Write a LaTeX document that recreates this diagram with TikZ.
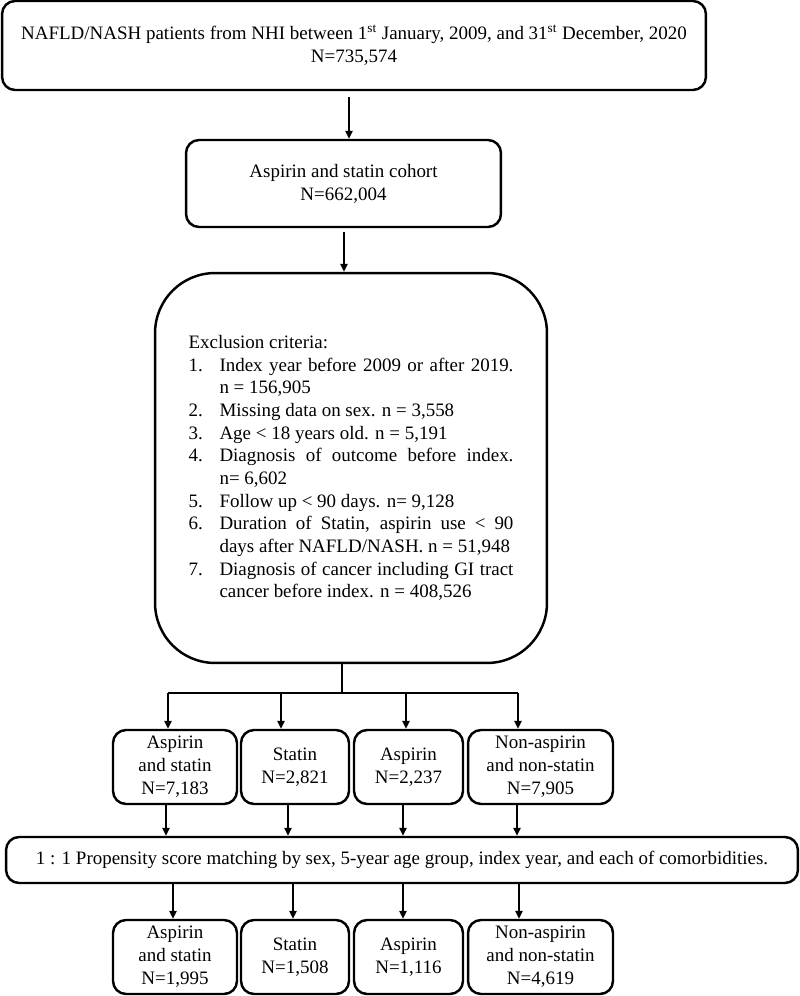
\documentclass[tikz,border=0pt]{standalone}
\usepackage{fontspec}
\setmainfont{Liberation Serif}
\usetikzlibrary{arrows.meta,positioning}

\newcommand{\critem}[2]{\par\hangindent=0.62cm\hangafter=1\noindent\makebox[0.62cm][l]{#1}#2\par}

\tikzset{
  box/.style={draw, line width=1.4pt, rounded corners=0.26cm, align=center,
    inner sep=0pt, font=\fontsize{10.8}{13.1}\selectfont},
  arr/.style={line width=1.1pt, -{Triangle[length=4.5pt,width=4pt]}},
  link/.style={line width=1.1pt},
}

\begin{document}
\begin{tikzpicture}[x=0.02cm,y=-0.02cm]
  \useasboundingbox (0,0) rectangle (800,996);
  % top of the flow
  \node[box, minimum width=14.08cm, minimum height=1.78cm] (nafld) at (354,45.5)
    {NAFLD/NASH patients from NHI between 1\textsuperscript{st} January, 2009, and 31\textsuperscript{st} December, 2020\\N=735,574};
  \node[box, minimum width=6.3cm, minimum height=1.74cm] (cohort) at (343.5,183.5)
    {Aspirin and statin cohort\\N=662,004};
  \node[box, rounded corners=1.2cm, minimum width=7.84cm, minimum height=7.8cm] (excl) at (351,468)
    {\begin{minipage}{6.5cm}\fontsize{10.8}{12.9}\selectfont
      Exclusion criteria:\par
      \critem{1.}{Index year before 2009 or after 2019.\linebreak n = 156,905}
      \critem{2.}{Missing data on sex. n = 3,558}
      \critem{3.}{Age < 18 years old. n = 5,191}
      \critem{4.}{Diagnosis of outcome before index.\linebreak n= 6,602}
      \critem{5.}{Follow up < 90 days. n= 9,128}
      \critem{6.}{Duration of Statin, aspirin use < 90\linebreak days after NAFLD/NASH. n = 51,948}
      \critem{7.}{Diagnosis of cancer including GI tract\linebreak cancer before index. n = 408,526}
    \end{minipage}};
  \coordinate (a1) at (349,97);
  \coordinate (a2) at (344,232);
  \draw[arr] (a1) -- (a1 |- cohort.north);
  \draw[arr] (a2) -- (a2 |- excl.north);

  % groups before matching
  \node[box, minimum width=2.48cm, minimum height=1.48cm] (aspStat) at (175,767) {Aspirin\\and statin\\N=7,183};
  \node[box, minimum width=2.16cm, minimum height=1.48cm] (stat) at (295,767) {Statin\\N=2,821};
  \node[box, minimum width=2.18cm, minimum height=1.48cm] (asp) at (408.5,767) {Aspirin\\N=2,237};
  \node[box, minimum width=2.9cm, minimum height=1.48cm] (none) at (540.5,767) {Non-aspirin\\and non-statin\\N=7,905};

  \coordinate (split) at (342,693);
  \coordinate (barL) at (168,693);
  \coordinate (barR) at (518,693);
  \draw[link] (excl.south -| split) -- (split);
  \draw[link] (barL) -- (barR);
  \foreach \x [count=\i] in {168,281,406,518}
    \coordinate (d\i) at (\x,693);
  \foreach \i/\n in {1/aspStat,2/stat,3/asp,4/none}
    \draw[arr] (d\i) -- (d\i |- \n.north);

  % matching
  \node[box, minimum width=15.84cm, minimum height=0.92cm] (match) at (402,860)
    {1 : 1 Propensity score matching by sex, 5-year age group, index year, and each of comorbidities.};
  \foreach \x [count=\i] in {166,288,403,517}
    \coordinate (m\i) at (\x,820);
  \foreach \i/\n in {1/aspStat,2/stat,3/asp,4/none}
    \draw[arr] (\n.south -| m\i) -- (match.north -| m\i);

  % groups after matching
  \node[box, minimum width=2.48cm, minimum height=1.48cm] (mAspStat) at (175,957) {Aspirin\\and statin\\N=1,995};
  \node[box, minimum width=2.16cm, minimum height=1.48cm] (mStat) at (295,957) {Statin\\N=1,508};
  \node[box, minimum width=2.18cm, minimum height=1.48cm] (mAsp) at (408.5,957) {Aspirin\\N=1,116};
  \node[box, minimum width=2.9cm, minimum height=1.48cm] (mNone) at (540.5,957) {Non-aspirin\\and non-statin\\N=4,619};
  \foreach \x [count=\i] in {173,293,403,519}
    \coordinate (e\i) at (\x,900);
  \foreach \i/\n in {1/mAspStat,2/mStat,3/mAsp,4/mNone}
    \draw[arr] (match.south -| e\i) -- (\n.north -| e\i);
\end{tikzpicture}
\end{document}
